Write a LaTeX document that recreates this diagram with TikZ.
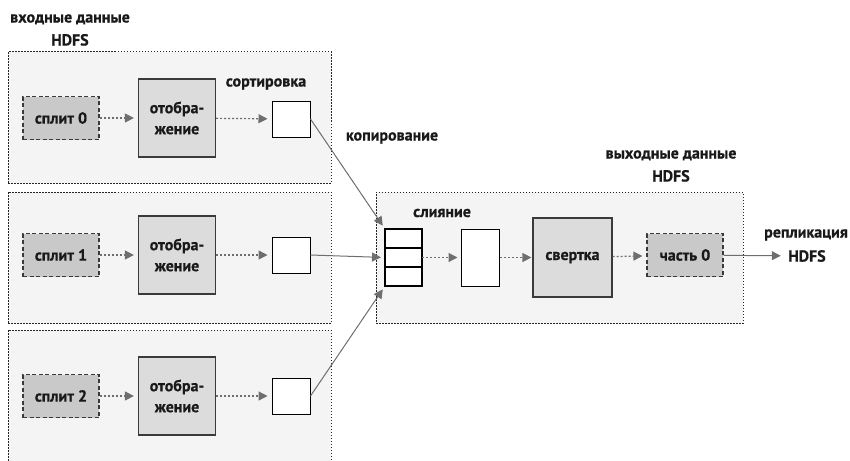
\documentclass[tikz,border=0pt]{standalone}
\usepackage{fontspec}
\setmainfont{PT Sans}[BoldFeatures={FakeBold=0.6}]
\usetikzlibrary{positioning,arrows.meta}
\definecolor{panelgray}{HTML}{F4F4F4}
\definecolor{mapgray}{HTML}{DCDCDC}
\definecolor{splitgray}{HTML}{C9C9C9}
\definecolor{arrowgray}{HTML}{6E6E6E}
\definecolor{edgegray}{HTML}{3A3A3A}

\begin{document}
\begin{tikzpicture}[x=1pt, y=-1pt,
    every node/.style={font=\fontsize{16}{23}\selectfont\bfseries, text=black!90},
    panel/.style={rectangle, draw=black!85, fill=panelgray, line width=1pt, dash pattern=on 1.5pt off 1.5pt, minimum width=323pt, minimum height=131pt},
    splitbox/.style={rectangle, draw=edgegray, fill=splitgray, line width=1.2pt, dash pattern=on 4pt off 2.5pt, minimum width=76pt, minimum height=43pt, inner sep=1pt},
    mapbox/.style={rectangle, draw=edgegray, fill=mapgray, line width=1.2pt, minimum width=77pt, minimum height=78pt, align=center, inner sep=1pt, font=\fontsize{16}{21}\selectfont\bfseries},
    sortbox/.style={rectangle, draw=black, fill=white, line width=1pt, minimum width=38pt, minimum height=36pt},
    cell/.style={rectangle, draw=black, fill=white, line width=1.2pt, minimum width=37pt, minimum height=19pt, outer sep=0pt},
    flow/.style={draw=arrowgray, line width=1.2pt, dash pattern=on 2pt off 2pt, -{Triangle[length=9pt,width=9pt]}, shorten >=4pt},
    copy/.style={draw=arrowgray, line width=1pt, -{Triangle[length=9pt,width=9pt]}, shorten >=4pt}]
    \clip (0,0) rectangle (850,460);

    % panels
    \node[panel] at (169.5,117.5) (IN0) {};
    \node[panel] at (169.5,257.5) (IN1) {};
    \node[panel] at (169.5,395.5) (IN2) {};
    \node[panel, minimum width=367pt] at (559.5,257.5) (OUT) {};

    \node[align=center] at (70,30) (INTITLE) {входные данные\\HDFS};
    \node[align=center] at (671,166) (OUTTITLE) {выходные данные\\HDFS};
    \node at (266,84) (SORTLBL) {сортировка};
    \node at (392,138) (COPYLBL) {копирование};
    \node at (442,213) (MERGELBL) {слияние};

    % map side
    \node[splitbox] at (61,118) (S0) {сплит 0};
    \node[splitbox] at (61,255) (S1) {сплит 1};
    \node[splitbox] at (61,396) (S2) {сплит 2};
    \node[mapbox] at (177,118) (M0) {отобра-\\жение};
    \node[mapbox] at (177,255) (M1) {отобра-\\жение};
    \node[mapbox] at (177,396) (M2) {отобра-\\жение};
    \node[sortbox] at (291,119) (SO0) {};
    \node[sortbox] at (291,255) (SO1) {};
    \node[sortbox] at (291,396) (SO2) {};

    % reduce side
    \node[cell] at (403.5,238.5) (C0) {};
    \node[cell, below=0pt of C0] (C1) {};
    \node[cell, below=0pt of C1] (C2) {};
    \node[sortbox, minimum height=57pt] at (480,257.5) (MERGED) {};
    \node[mapbox, minimum width=79pt, minimum height=79pt] at (572.5,257.5) (RED) {свертка};
    \node[splitbox] at (685,255) (PART) {часть 0};
    \node at (806,235) (REPL) {репликация};
    \node at (807,256) (REPLHDFS) {HDFS};

    \draw [flow] (S0) -- (M0);
    \draw [flow] (M0) -- (SO0);
    \draw [flow] (S1) -- (M1);
    \draw [flow] (M1) -- (SO1);
    \draw [flow] (S2) -- (M2);
    \draw [flow] (M2) -- (SO2);

    \draw [copy] (SO0.east) -- (C0.north west);
    \draw [copy] (SO1.east) -- (C1.west);
    \draw [copy] (SO2.east) -- (C2.south west);

    \draw [flow, shorten >=3pt] (C1) -- (MERGED);
    \draw [flow, shorten >=1pt] (MERGED) -- (RED);
    \draw [flow] (RED) -- (PART);
    \draw [copy] (PART) -- (REPLHDFS);
\end{tikzpicture}
\end{document}
